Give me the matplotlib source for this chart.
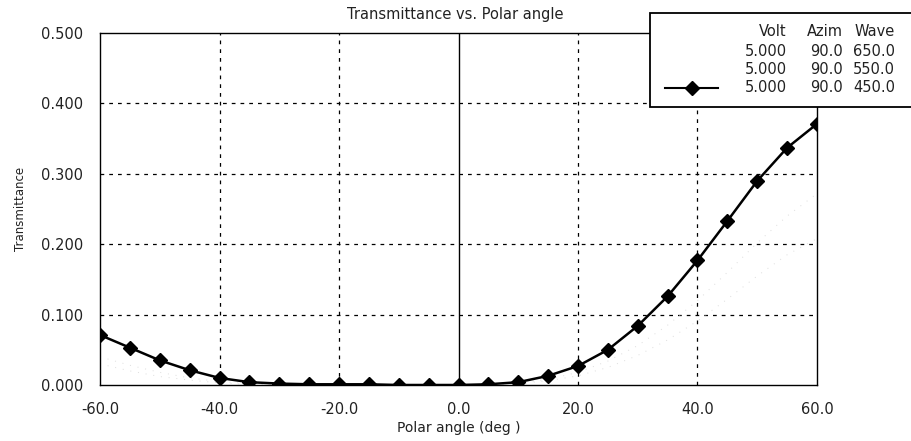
import matplotlib
matplotlib.use("Agg")
import matplotlib.pyplot as plt
from matplotlib.patches import Rectangle
from matplotlib.lines import Line2D

plt.rcParams['font.family'] = ['DejaVu Sans']

# polar angle (deg)
angles = [-60, -55, -50, -45, -40, -35, -30, -25, -20, -15, -10, -5, 0,
          5, 10, 15, 20, 25, 30, 35, 40, 45, 50, 55, 60]

# 450 nm series (solid with diamonds)
t_450 = [0.071, 0.053, 0.035, 0.021, 0.010, 0.004, 0.002, 0.001, 0.001, 0.001,
         0.000, 0.000, 0.000, 0.001, 0.004, 0.013, 0.027, 0.050, 0.084, 0.126,
         0.177, 0.233, 0.290, 0.337, 0.371]

# faint series, barely visible in the scan
t_550 = [0.040, 0.028, 0.018, 0.010, 0.005, 0.002, 0.001, 0.001, 0.000, 0.000,
         0.000, 0.000, 0.000, 0.001, 0.003, 0.008, 0.018, 0.034, 0.056, 0.085,
         0.120, 0.160, 0.202, 0.240, 0.272]
t_650 = [0.030, 0.020, 0.012, 0.007, 0.003, 0.001, 0.001, 0.000, 0.000, 0.000,
         0.000, 0.000, 0.000, 0.000, 0.002, 0.006, 0.013, 0.025, 0.042, 0.064,
         0.091, 0.122, 0.155, 0.185, 0.208]

xticks = [-60, -40, -20, 0, 20, 40, 60]
yticks = [0.0, 0.1, 0.2, 0.3, 0.4, 0.5]

legend_header = ["Volt", "Azim", "Wave"]
legend_rows = [["5.000", "90.0", "650.0"],
               ["5.000", "90.0", "550.0"],
               ["5.000", "90.0", "450.0"]]

txt_color = '#222222'

fig = plt.figure(figsize=(9.11, 4.41), dpi=100)
ax = fig.add_axes([0.1098, 0.127, 0.7870, 0.798])

ax.plot(angles, t_650, color='#dddddd', lw=0.7, ls=(0, (1, 7)))
ax.plot(angles, t_550, color='#dddddd', lw=0.7, ls=(0, (1, 7)))
ax.plot(angles, t_450, color='black', lw=1.8, marker='D', markersize=7.5)

ax.set_xlim(-60, 60)
ax.set_ylim(0, 0.5)
ax.set_xticks(xticks)
ax.set_xticklabels([f"{v:.1f}" for v in xticks])
ax.set_yticks(yticks)
ax.set_yticklabels([f"{v:.3f}" for v in yticks])
ax.tick_params(axis='both', length=0, labelsize=10.5, labelcolor=txt_color)
ax.tick_params(axis='y', pad=12)
ax.tick_params(axis='x', pad=12)

for x in [-40, -20, 20, 40]:
    ax.axvline(x, color='black', lw=0.9, ls=(0, (3, 4)), zorder=0)
for y in [0.1, 0.2, 0.3, 0.4]:
    ax.axhline(y, color='black', lw=0.9, ls=(0, (3, 4)), zorder=0)
ax.axvline(0, color='black', lw=1.0, zorder=0)

for s in ax.spines.values():
    s.set_linewidth(1.0)

ax.set_xlabel("Polar angle (deg )", fontsize=10, labelpad=3, color=txt_color)
ax.set_ylabel("Transmittance", fontsize=8.5, color=txt_color)
ax.yaxis.set_label_coords(-0.102, 0.5)
fig.text(0.5, 1 - 14 / 441, "Transmittance vs. Polar angle", ha='center', va='center',
         fontsize=10.5, color=txt_color)

# legend box in the upper right, running off the edge
W, H = 911, 441
box = Rectangle((650 / W, 1 - 107 / H), 300 / W, 94 / H, transform=fig.transFigure,
                facecolor='white', edgecolor='black', lw=1.3, zorder=5)
fig.patches.append(box)

col_x = [787, 843, 895]
row_y = [31, 52, 70, 88]
for cx, txt in zip(col_x, legend_header):
    fig.text(cx / W, 1 - row_y[0] / H, txt, ha='right', va='center', fontsize=10.5,
             color=txt_color, zorder=6)
for ry, row in zip(row_y[1:], legend_rows):
    for cx, txt in zip(col_x, row):
        fig.text(cx / W, 1 - ry / H, txt, ha='right', va='center', fontsize=10.5,
                 color=txt_color, zorder=6)

fig.lines.append(Line2D([665 / W, 718 / W], [1 - 88 / H, 1 - 88 / H], transform=fig.transFigure,
                        color='black', lw=1.5, zorder=6))
fig.lines.append(Line2D([692 / W], [1 - 88 / H], transform=fig.transFigure,
                        color='black', marker='D', markersize=7.5, zorder=6))

fig.savefig("out.png", dpi=100)
